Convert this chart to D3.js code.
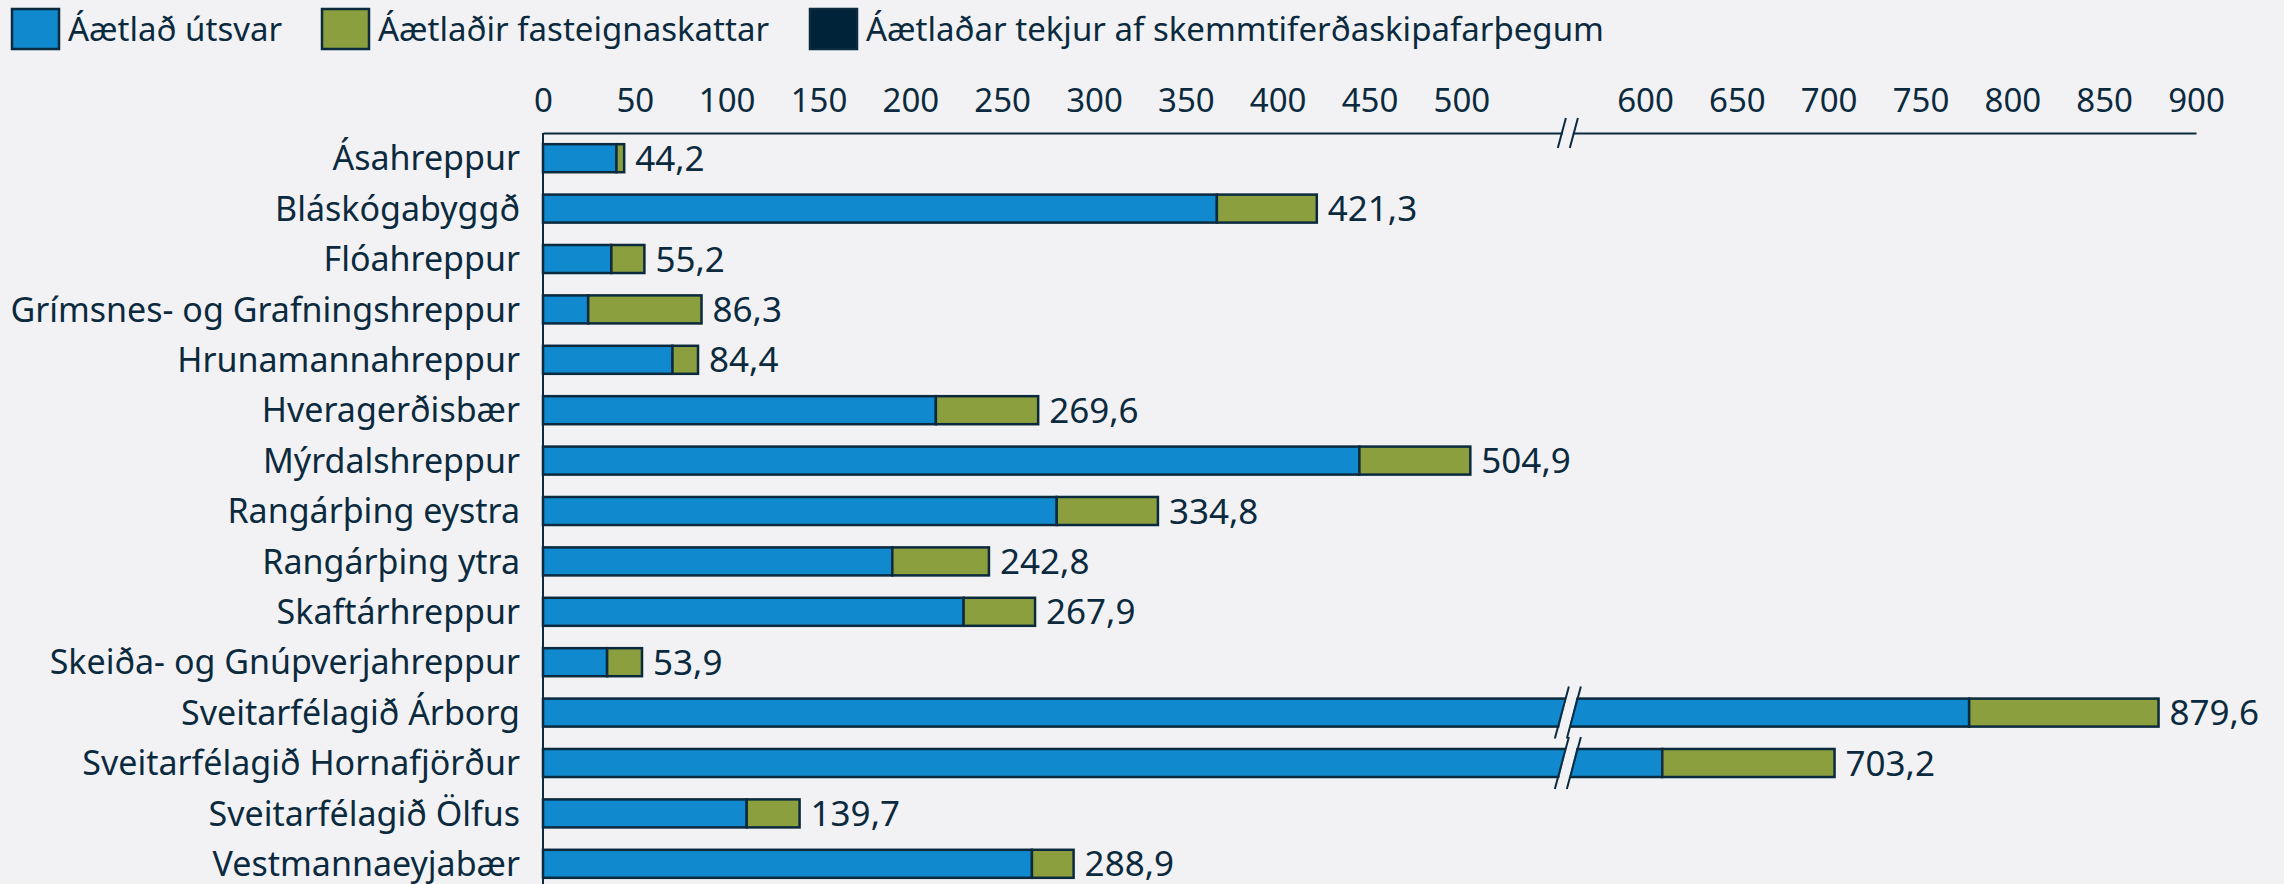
<!DOCTYPE html>
<html>
<head>
<meta charset="utf-8">
<script src="https://cdn.jsdelivr.net/npm/d3@7"></script>
<style>
  body { margin: 0; background: #f2f2f5; }
  text { font-family: "Noto Sans", sans-serif; fill: #0b2a3e; }
</style>
</head>
<body>
<div id="chart"></div>
<script>
// sveitarfélög
var municipalities = [
  "Ásahreppur", "Bláskógabyggð", "Flóahreppur", "Grímsnes- og Grafningshreppur",
  "Hrunamannahreppur", "Hveragerðisbær", "Mýrdalshreppur", "Rangárþing eystra",
  "Rangárþing ytra", "Skaftárhreppur", "Skeiða- og Gnúpverjahreppur",
  "Sveitarfélagið Árborg", "Sveitarfélagið Hornafjörður", "Sveitarfélagið Ölfus",
  "Vestmannaeyjabær"
];
var utsvar = [40.0, 366.9, 37.2, 24.6, 70.5, 213.9, 444.5, 279.7, 190.2, 229.0, 34.9, 776.5, 609.4, 110.9, 266.2];
var fasteignaskattar = [4.2, 54.4, 18.0, 61.7, 13.9, 55.7, 60.4, 55.1, 52.6, 38.9, 19.0, 103.1, 93.8, 28.8, 22.7];
var skipafarthegar = [0, 0, 0, 0, 0, 0, 0, 0, 0, 0, 0, 0, 0, 0, 0];
var totals = [44.2, 421.3, 55.2, 86.3, 84.4, 269.6, 504.9, 334.8, 242.8, 267.9, 53.9, 879.6, 703.2, 139.7, 288.9];
var tickValues = [0, 50, 100, 150, 200, 250, 300, 350, 400, 450, 500, 600, 650, 700, 750, 800, 850, 900];
var seriesNames = ["Áætlað útsvar", "Áætlaðir fasteignaskattar", "Áætlaðar tekjur af skemmtiferðaskipafarþegum"];
var seriesColors = ["#1089ce", "#8b9f3e", "#00233a"];
var breakValue = 558;

var svgWidth = 2284;
var svgHeight = 884;
var bg = "#f2f2f5";
var ink = "#0b2a3e";

var margin = { top: 133, left: 543 };

var svg = d3.select("#chart")
  .append("svg")
  .attr("width", svgWidth)
  .attr("height", svgHeight);

svg.append("rect")
  .attr("width", svgWidth)
  .attr("height", svgHeight)
  .attr("fill", bg);

var x = d3.scaleLinear()
  .domain([0, 900])
  .range([margin.left, 2196]);

var y = d3.scaleBand()
  .domain(municipalities)
  .range([margin.top, margin.top + 50.4 * municipalities.length])
  .paddingInner(0.444)
  .paddingOuter(0.222);

var rows = municipalities.map(function(m, i) {
  return { name: m, s0: utsvar[i], s1: fasteignaskattar[i], s2: skipafarthegar[i], total: totals[i] };
});

var stack = d3.stack().keys(["s0", "s1", "s2"]);
var layers = stack(rows);

// stacked bars
var barGroup = svg.append("g");
layers.forEach(function(layer, k) {
  barGroup.selectAll(null)
    .data(layer.filter(function(d) { return d[1] - d[0] > 0; }))
    .enter()
    .append("rect")
    .attr("x", function(d) { return x(d[0]); })
    .attr("y", function(d) { return y(d.data.name); })
    .attr("width", function(d) { return x(d[1]) - x(d[0]); })
    .attr("height", y.bandwidth())
    .attr("fill", seriesColors[k])
    .attr("stroke", ink)
    .attr("stroke-width", 2.5);
});

// value labels
svg.selectAll(".value")
  .data(rows)
  .enter()
  .append("text")
  .attr("class", "value")
  .attr("x", function(d) { return x(d.total) + 11; })
  .attr("y", function(d) { return y(d.name) + y.bandwidth() / 2; })
  .attr("dy", "0.36em")
  .attr("font-size", 35)
  .text(function(d) { return d3.format(".1f")(d.total).replace(".", ","); });

// category labels
svg.selectAll(".cat")
  .data(municipalities)
  .enter()
  .append("text")
  .attr("class", "cat")
  .attr("x", 520)
  .attr("y", function(d) { return y(d) + y.bandwidth() / 2; })
  .attr("dy", "0.36em")
  .attr("text-anchor", "end")
  .attr("font-size", 34)
  .text(function(d) { return d; });

// top axis
var topAxis = d3.axisTop(x)
  .tickValues(tickValues)
  .tickSize(0)
  .tickPadding(21)
  .tickFormat(d3.format("d"));

var axisG = svg.append("g")
  .attr("transform", `translate(0, ${margin.top})`)
  .call(topAxis);
axisG.select(".domain")
  .attr("stroke", ink)
  .attr("stroke-width", 2);
axisG.selectAll("text")
  .attr("font-size", 33)
  .attr("font-family", "Noto Sans, sans-serif")
  .attr("fill", ink);

// left axis line
svg.append("line")
  .attr("x1", margin.left)
  .attr("x2", margin.left)
  .attr("y1", margin.top)
  .attr("y2", svgHeight)
  .attr("stroke", ink)
  .attr("stroke-width", 2);

// axis break marks
function drawBreak(cy, halfH, ext) {
  var bx = x(breakValue);
  var slope = 0.27;
  var gap = 6;
  var top = cy - halfH - ext;
  var bot = cy + halfH + ext;
  var pts = [
    [bx - gap + (cy - top) * slope, top],
    [bx + gap + (cy - top) * slope, top],
    [bx + gap - (bot - cy) * slope, bot],
    [bx - gap - (bot - cy) * slope, bot]
  ];
  var g = svg.append("g");
  g.append("polygon")
    .attr("points", [
      [bx - gap + halfH * slope + 1, cy - halfH - 2],
      [bx + gap + halfH * slope - 1, cy - halfH - 2],
      [bx + gap - halfH * slope - 1, cy + halfH + 2],
      [bx - gap - halfH * slope + 1, cy + halfH + 2]
    ].map(function(p) { return p.join(","); }).join(" "))
    .attr("fill", bg);
  g.append("line")
    .attr("x1", pts[0][0]).attr("y1", pts[0][1])
    .attr("x2", pts[3][0]).attr("y2", pts[3][1])
    .attr("stroke", ink).attr("stroke-width", 2);
  g.append("line")
    .attr("x1", pts[1][0]).attr("y1", pts[1][1])
    .attr("x2", pts[2][0]).attr("y2", pts[2][1])
    .attr("stroke", ink).attr("stroke-width", 2);
}

drawBreak(margin.top, 1, 14);
rows.forEach(function(d) {
  if (d.total > breakValue) {
    drawBreak(y(d.name) + y.bandwidth() / 2, y.bandwidth() / 2, 12);
  }
});

// legend
var legendX = [12, 322, 810];
var legend = svg.append("g");
seriesNames.forEach(function(name, k) {
  legend.append("rect")
    .attr("x", legendX[k])
    .attr("y", 9)
    .attr("width", 47)
    .attr("height", 40)
    .attr("fill", seriesColors[k])
    .attr("stroke", ink)
    .attr("stroke-width", 2.5);
  legend.append("text")
    .attr("x", legendX[k] + 56)
    .attr("y", 29)
    .attr("dy", "0.36em")
    .attr("font-size", 33)
    .text(name);
});
</script>
</body>
</html>
